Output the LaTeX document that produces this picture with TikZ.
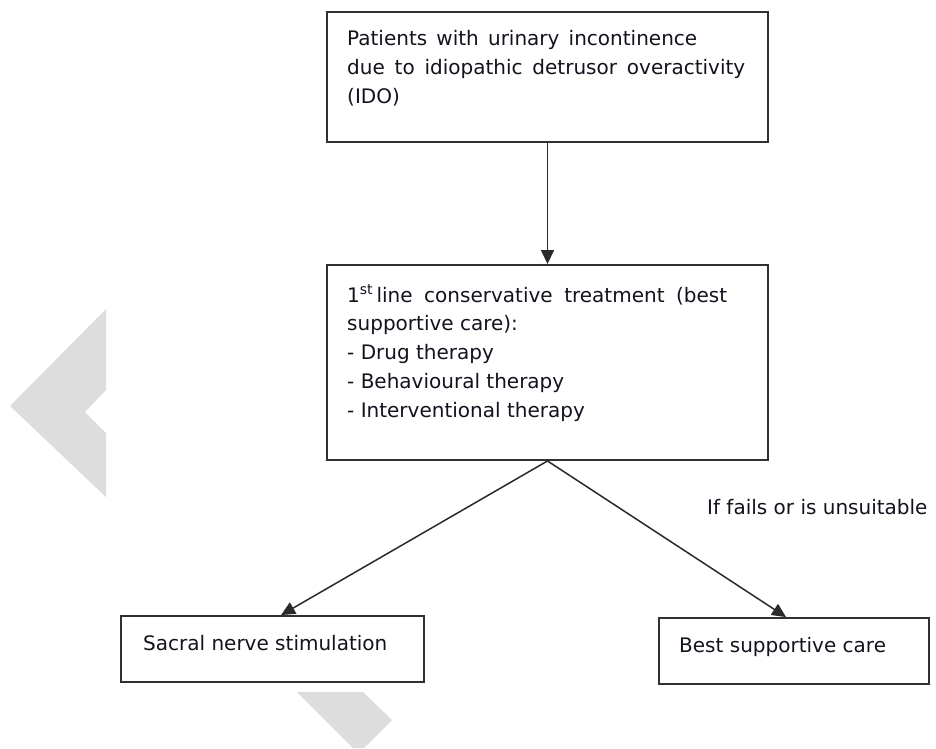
\documentclass[tikz,border=0pt]{standalone}
\usepackage{fontspec}
\setmainfont{DejaVu Sans}
\usetikzlibrary{arrows.meta,calc}
\definecolor{boxc}{HTML}{303030}
\definecolor{linec}{HTML}{2A2A2A}
\definecolor{txtc}{HTML}{15121E}
\definecolor{wmc}{HTML}{DDDDDD}
\begin{document}
\begin{tikzpicture}[x=1pt,y=-1pt,
  box/.style={draw=boxc, line width=1.9pt, inner sep=0pt, rectangle},
  txt/.style={anchor=base west, inner sep=0pt, font=\fontsize{20}{29}\selectfont, text=txtc},
  arr/.style={draw=linec, line width=1.5pt, -{Triangle[length=14pt,width=13pt]}},
  wm/.style={fill=wmc, draw=none}]
\useasboundingbox (0,0) rectangle (936,748);
\fill[white] (0,0) rectangle (936,748);
% watermark shapes
\fill[wm] (106,309) -- (10,406) -- (106,497) -- (106,433) -- (85,412) -- (106,390) -- cycle;
\fill[wm] (297,692) -- (363,692) -- (392,720) -- (364,748) -- (353,748) -- cycle;
% boxes
\node[box, minimum width=441pt, minimum height=130pt] (b1) at (547.5,77) {};
\node[box, minimum width=441pt, minimum height=195pt] (b2) at (547.5,362.5) {};
\node[box, minimum width=303pt, minimum height=66pt] (sns) at (272.5,649) {};
\node[box, minimum width=270pt, minimum height=66pt] (bsc) at (794,651) {};
% texts
\node[txt] (t1a) at (347,45) {\makebox[350pt][s]{Patients with urinary incontinence}};
\node[txt] (t1b) at (347,74) {\makebox[398pt][s]{due to idiopathic detrusor overactivity}};
\node[txt] (t1c) at (347,103) {(IDO)};
\node[txt] (t2a) at (347,302) {\makebox[380pt][s]{1\textsuperscript{st}\,line conservative treatment (best}};
\node[txt] (t2b) at (347,330) {supportive care):};
\node[txt] (t2c) at (347,359) {- Drug therapy};
\node[txt] (t2d) at (347,388) {- Behavioural therapy};
\node[txt] (t2e) at (347,417) {- Interventional therapy};
\node[txt] (t3) at (143,650) {Sacral nerve stimulation};
\node[txt] (t4) at (679,652) {Best supportive care};
\node[txt] (lab) at (707,514) {If fails or is unsuitable};
% connectors
\draw[arr] (b1.south) -- (b2.north);
\draw[arr] (b2.south) -- ([xshift=161pt]sns.north west);
\draw[arr] (b2.south) -- ([xshift=128pt]bsc.north west);
\end{tikzpicture}
\end{document}
